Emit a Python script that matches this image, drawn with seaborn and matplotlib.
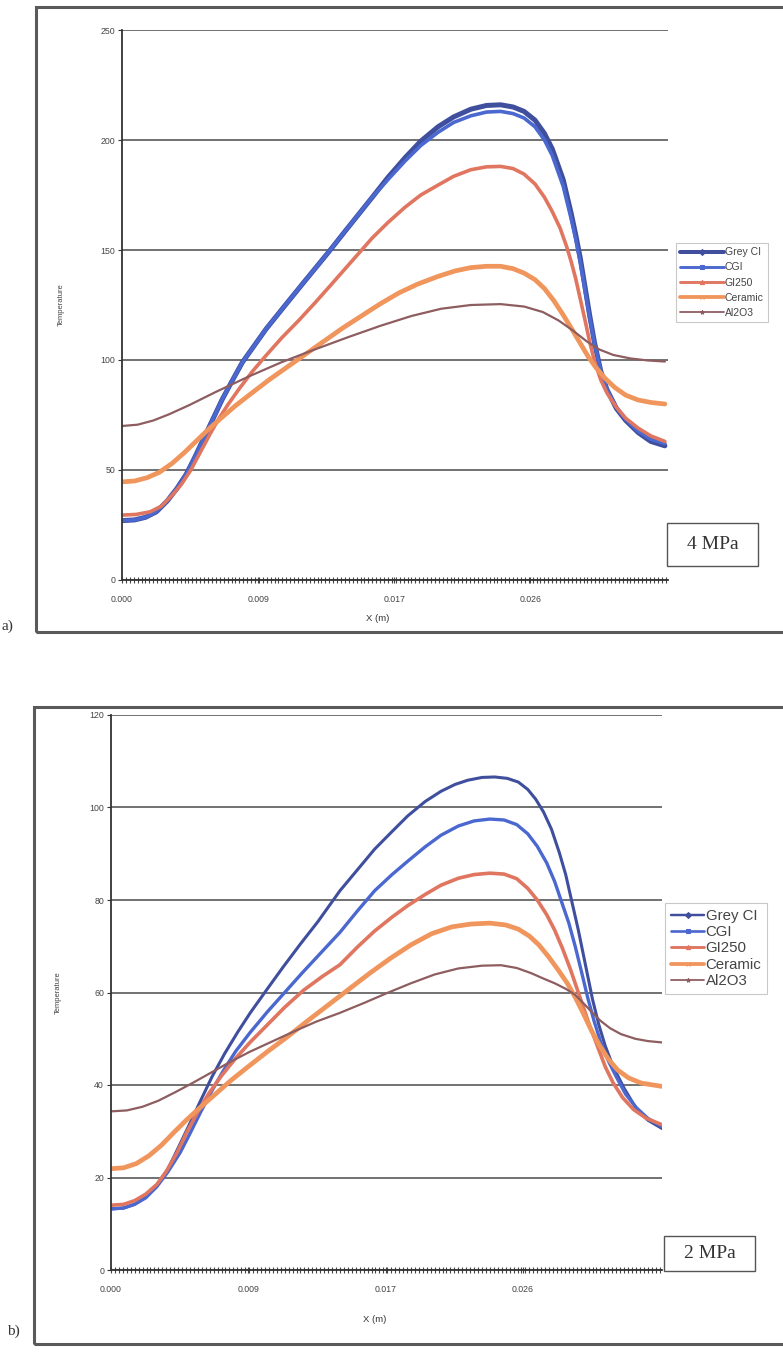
import matplotlib
matplotlib.use("Agg")
import matplotlib.pyplot as plt
from matplotlib.lines import Line2D
from matplotlib.patches import Rectangle
from matplotlib.ticker import MultipleLocator, FixedLocator, FixedFormatter
import numpy as np
import pandas as pd
import seaborn as sns

# ── Data: panel a (4 MPa) ────────────────────────────────────────────────────
a_grey_x = [0, 0.0008, 0.0015, 0.0022, 0.0029, 0.0035, 0.0041, 0.0046, 0.0052, 0.0058,
            0.0064, 0.0070, 0.0077, 0.0085, 0.0092, 0.0105, 0.0117, 0.0132, 0.0142,
            0.0151, 0.0160, 0.0170, 0.0181, 0.0191, 0.0202, 0.0212, 0.0223, 0.0233,
            0.0242, 0.0250, 0.0257, 0.0264, 0.0270, 0.0275, 0.0278, 0.0282, 0.0287,
            0.0290, 0.0293, 0.0296, 0.0299, 0.0302, 0.0306, 0.0310, 0.0316, 0.0322,
            0.0330, 0.0338, 0.0347]
a_grey_y = [27, 27.3, 28.5, 31, 36, 41.5, 48, 55, 64, 73, 82, 90, 99, 107, 114, 125.5,
            136, 149, 158, 166, 174, 183, 192, 199.5, 206, 210.5, 214, 215.7, 216, 215,
            213, 209, 203, 196, 190, 182, 167, 157, 146, 133, 120, 108, 95, 86.5, 78,
            72.5, 67, 63, 61]
a_cgi_x = a_grey_x
a_cgi_y = [27, 27.3, 28.5, 31, 36, 41.5, 48, 55, 64, 73, 82, 90, 99, 107, 114, 125.5,
           136, 149, 158, 166, 174, 182, 190.5, 197.5, 203.5, 208, 211, 212.7, 213, 212,
           210, 206, 200, 193, 187, 179, 164.5, 155, 144, 131.5, 119, 107.5, 95, 86.5,
           78.5, 73, 67.5, 64, 62]
a_gi_x = [0, 0.0009, 0.0018, 0.0025, 0.0032, 0.0038, 0.0044, 0.0050, 0.0056, 0.0062,
          0.0068, 0.0075, 0.0083, 0.0092, 0.0102, 0.0113, 0.0124, 0.0134, 0.0147, 0.0160,
          0.0170, 0.0181, 0.0191, 0.0202, 0.0212, 0.0223, 0.0233, 0.0242, 0.0250, 0.0257,
          0.0264, 0.0270, 0.0275, 0.0280, 0.0284, 0.0287, 0.0290, 0.0293, 0.0296, 0.0299,
          0.0302, 0.0306, 0.0310, 0.0316, 0.0322, 0.0330, 0.0338, 0.0347]
a_gi_y = [29.5, 29.8, 31, 33.5, 38.5, 43.5, 50, 58, 66, 73.5, 80, 87, 94.5, 102, 110, 118,
          126.5, 134.5, 145, 155.5, 162.5, 169.5, 175, 179.5, 183.5, 186.5, 187.8, 188,
          187, 184.5, 180, 174, 167.5, 160, 152, 145, 137, 127.5, 118, 108, 99.5, 91, 85,
          78.5, 73.5, 69, 65.5, 63]
a_cer_x = [0, 0.0008, 0.0016, 0.0024, 0.0032, 0.0040, 0.0048, 0.0056, 0.0064, 0.0073,
           0.0083, 0.0094, 0.0105, 0.0117, 0.0129, 0.0141, 0.0153, 0.0165, 0.0177, 0.0189,
           0.0202, 0.0213, 0.0223, 0.0233, 0.0242, 0.0250, 0.0257, 0.0264, 0.0270, 0.0276,
           0.0282, 0.0288, 0.0293, 0.0298, 0.0303, 0.0309, 0.0315, 0.0322, 0.0330, 0.0338,
           0.0347]
a_cer_y = [44.6, 45, 46.5, 49, 53, 58, 63.5, 69, 74, 79.5, 85, 91, 96.5, 102.5, 108.5,
           114.5, 120, 125.5, 130.5, 134.5, 138, 140.5, 142, 142.6, 142.6, 141.5, 139.5,
           136.5, 132.5, 127, 120.5, 113.5, 107.5, 101.5, 96.5, 91.5, 87.5, 84, 81.8, 80.7, 80]
a_al_x = [0, 0.0010, 0.0020, 0.0030, 0.0043, 0.0060, 0.0081, 0.0102, 0.0124, 0.0145,
          0.0165, 0.0185, 0.0204, 0.0223, 0.0242, 0.0257, 0.0269, 0.0279, 0.0288, 0.0297,
          0.0305, 0.0314, 0.0325, 0.0336, 0.0347]
a_al_y = [70, 70.6, 72.5, 75.3, 79.5, 85.5, 92.5, 99, 105, 110.5, 115.5, 120, 123.3, 125,
          125.4, 124.3, 121.8, 118, 113.5, 108.5, 104.8, 102.3, 100.7, 99.8, 99.3]

# ── Data: panel b (2 MPa) ────────────────────────────────────────────────────
b_grey_x = [0, 0.0008, 0.0015, 0.0022, 0.0029, 0.0036, 0.0042, 0.0049, 0.0057, 0.0064,
            0.0072, 0.0080, 0.0088, 0.0098, 0.0109, 0.0120, 0.0131, 0.0145, 0.0156,
            0.0167, 0.0178, 0.0188, 0.0199, 0.0209, 0.0218, 0.0226, 0.0235, 0.0243,
            0.0251, 0.0258, 0.0264, 0.0269, 0.0274, 0.0279, 0.0284, 0.0288, 0.0292,
            0.0296, 0.0299, 0.0302, 0.0305, 0.0309, 0.0313, 0.0318, 0.0325, 0.0332,
            0.0340, 0.0349]
b_grey_y = [13.2, 13.4, 14.2, 15.8, 18.3, 21.8, 26, 31, 36.8, 41.8, 46.8, 51.3, 55.5, 60.3,
            65.5, 70.5, 75.3, 82, 86.5, 91, 94.8, 98.2, 101.3, 103.5, 105, 105.9, 106.5,
            106.6, 106.3, 105.5, 103.9, 101.8, 99, 95.3, 90.2, 85.5, 79.5, 73.5, 68.5,
            63.5, 58.5, 53, 48.5, 44, 39.3, 35.3, 32.4, 30.6]
b_cgi_x = [0, 0.0008, 0.0015, 0.0022, 0.0029, 0.0036, 0.0044, 0.0050, 0.0057, 0.0064,
           0.0071, 0.0079, 0.0088, 0.0099, 0.0110, 0.0121, 0.0133, 0.0145, 0.0156, 0.0167,
           0.0178, 0.0188, 0.0199, 0.0209, 0.0220, 0.0230, 0.0240, 0.0249, 0.0257, 0.0264,
           0.0270, 0.0276, 0.0281, 0.0286, 0.0290, 0.0294, 0.0298, 0.0302, 0.0306, 0.0310,
           0.0315, 0.0320, 0.0326, 0.0333, 0.0340, 0.0349]
b_cgi_y = [13.2, 13.4, 14.2, 15.6, 18, 21.2, 25.5, 29.5, 34.3, 38.8, 43, 47.3, 51.3, 55.8,
           60, 64.2, 68.6, 73, 77.6, 82, 85.5, 88.4, 91.5, 94, 96, 97.1, 97.5, 97.3, 96.3,
           94.3, 91.6, 88, 84, 79, 75, 70, 64.5, 58.8, 53.8, 49.5, 45.2, 41.8, 38, 35,
           32.8, 31]
b_gi_x = [0, 0.0008, 0.0015, 0.0022, 0.0029, 0.0035, 0.0042, 0.0048, 0.0055, 0.0062,
          0.0070, 0.0079, 0.0088, 0.0099, 0.0110, 0.0122, 0.0134, 0.0145, 0.0156, 0.0167,
          0.0178, 0.0188, 0.0199, 0.0209, 0.0220, 0.0230, 0.0240, 0.0249, 0.0257, 0.0264,
          0.0270, 0.0276, 0.0281, 0.0286, 0.0291, 0.0295, 0.0299, 0.0303, 0.0308, 0.0313,
          0.0318, 0.0324, 0.0331, 0.0339, 0.0349]
b_gi_y = [14, 14.2, 15, 16.4, 18.5, 21.3, 25.5, 29.8, 34.2, 38.2, 42, 45.8, 49.2, 53, 56.8,
          60.5, 63.5, 66, 69.8, 73.3, 76.3, 78.8, 81.2, 83.2, 84.7, 85.5, 85.8, 85.6, 84.6,
          82.5, 80, 76.8, 73.5, 69.5, 65, 61, 57, 53, 48.5, 44, 40.5, 37.3, 34.7, 32.8, 31.4]
b_cer_x = [0, 0.0008, 0.0016, 0.0024, 0.0032, 0.0040, 0.0048, 0.0057, 0.0066, 0.0076,
           0.0087, 0.0099, 0.0112, 0.0125, 0.0138, 0.0151, 0.0164, 0.0177, 0.0190, 0.0203,
           0.0216, 0.0228, 0.0240, 0.0250, 0.0258, 0.0265, 0.0271, 0.0277, 0.0283, 0.0289,
           0.0294, 0.0299, 0.0304, 0.0309, 0.0315, 0.0321, 0.0328, 0.0336, 0.0349]
b_cer_y = [21.9, 22.1, 23, 24.7, 27, 29.8, 32.5, 35.3, 38, 41, 44, 47.2, 50.5, 54, 57.4,
           60.8, 64.2, 67.4, 70.3, 72.7, 74.2, 74.8, 75, 74.6, 73.7, 72.2, 70.3, 67.8, 65,
           62, 59, 55.6, 52, 48.8, 45.6, 43.2, 41.5, 40.4, 39.7]
b_al_x = [0, 0.0010, 0.0020, 0.0030, 0.0041, 0.0052, 0.0063, 0.0075, 0.0088, 0.0102,
          0.0116, 0.0130, 0.0145, 0.0160, 0.0175, 0.0190, 0.0205, 0.0220, 0.0235, 0.0247,
          0.0257, 0.0266, 0.0274, 0.0281, 0.0288, 0.0294, 0.0300, 0.0305, 0.0310, 0.0316,
          0.0323, 0.0332, 0.0340, 0.0349]
b_al_y = [34.3, 34.5, 35.3, 36.6, 38.5, 40.5, 42.6, 44.9, 47.2, 49.4, 51.6, 53.7, 55.6,
          57.7, 59.9, 62, 63.9, 65.2, 65.8, 65.9, 65.3, 64.2, 63, 62, 60.8, 59.5, 57.4,
          55.6, 53.9, 52.3, 51, 50, 49.5, 49.2]

series_names = ["Grey CI", "CGI", "GI250", "Ceramic", "Al2O3"]
x_tick_pos = [0.0, 0.0087, 0.0174, 0.0261]
x_tick_lab = ["0.000", "0.009", "0.017", "0.026"]

# ── Style ────────────────────────────────────────────────────────────────────
COLORS = {"Grey CI": "#3f4f9e", "CGI": "#4a68cf", "GI250": "#e07560",
          "Ceramic": "#f0955c", "Al2O3": "#8e5d5f"}
MARKERS = {"Grey CI": "D", "CGI": "s", "GI250": "^", "Ceramic": "x", "Al2O3": "*"}
GRID = "#4a4a4a"
FRAME = "#5a5a5a"
SERIF = ["Liberation Serif", "DejaVu Serif"]
W, H = 783, 1356

sns.set_theme(style="white")
plt.rcParams["font.family"] = ["Liberation Sans", "DejaVu Sans"]


def build_df(pairs):
    frames = []
    for name, (xs, ys) in zip(series_names, pairs):
        frames.append(pd.DataFrame({"x": xs, "T": ys, "series": name}))
    return pd.concat(frames, ignore_index=True)


def draw_panel(ax, df, widths, ymax, ystep, legend_anchor, legend_fs, hlen, lspace):
    for name in series_names:
        sub = df[df["series"] == name]
        sns.lineplot(data=sub, x="x", y="T", ax=ax, color=COLORS[name],
                     lw=widths[name], legend=False, sort=False)
    ax.set_xlim(0, 0.0349)
    ax.set_ylim(0, ymax)
    ax.set_yticks(np.arange(0, ymax + 1, ystep))
    ax.yaxis.grid(True, color=GRID, lw=1.1)
    ax.xaxis.grid(False)
    ax.xaxis.set_major_locator(FixedLocator(x_tick_pos))
    ax.xaxis.set_major_formatter(FixedFormatter(x_tick_lab))
    ax.xaxis.set_minor_locator(MultipleLocator(0.00025))
    for side in ["top", "right"]:
        ax.spines[side].set_visible(False)
    for side in ["left", "bottom"]:
        ax.spines[side].set_color("#333333")
        ax.spines[side].set_linewidth(1.3)
    ax.tick_params(axis="y", which="major", left=True, length=3, width=0.8,
                   color="#333333", labelsize=6.3, labelcolor="#444444", pad=2)
    ax.tick_params(axis="x", which="both", bottom=True, direction="inout",
                   length=5, width=0.8, color="#444444", labelsize=6.3,
                   labelcolor="#444444", pad=8)
    ax.set_ylabel("Temperature", fontsize=5.5, color="#444444")
    ax.set_xlabel("X (m)", fontsize=6.8, color="#333333")
    handles = [Line2D([], [], color=COLORS[n], lw=widths[n] * 0.8, marker=MARKERS[n],
                      markersize=3, markeredgewidth=0.8) for n in series_names]
    leg = ax.legend(handles, series_names, loc="upper left",
                    bbox_to_anchor=legend_anchor, bbox_transform=ax.figure.transFigure,
                    fontsize=legend_fs, frameon=True, handlelength=hlen,
                    handletextpad=0.1, borderpad=0.4, labelspacing=lspace,
                    fancybox=False, borderaxespad=0)
    leg.get_frame().set_edgecolor("#bbbbbb")
    leg.get_frame().set_linewidth(0.8)
    for t in leg.get_texts():
        t.set_color("#444444")


def label_box(fig, x0, y0, x1, y1, text):
    fig.add_artist(Rectangle((x0 / W, 1 - y1 / H), (x1 - x0) / W, (y1 - y0) / H,
                             transform=fig.transFigure, facecolor="white",
                             edgecolor="#555555", lw=1.0))
    fig.text((x0 + x1) / 2 / W, 1 - (y0 + y1) / 2 / H, text, ha="center", va="center",
             fontsize=14, family=SERIF, color="#333333")


fig = plt.figure(figsize=(7.83, 13.56), dpi=100)
fig.patch.set_facecolor("white")

# outer frames of the two sub-figures
fig.add_artist(Rectangle((36 / W, 0.534), 1.05, 0.9948 - 0.534,
                         transform=fig.transFigure, fill=False,
                         edgecolor=FRAME, lw=2.2, clip_on=False))
fig.add_artist(Rectangle((34 / W, 0.0088), 1.05, 0.4786 - 0.0088,
                         transform=fig.transFigure, fill=False,
                         edgecolor=FRAME, lw=2.2, clip_on=False))

# panel a
ax_a = fig.add_axes([122 / W, 1 - 580 / H, 546 / W, 550 / H])
df_a = build_df([(a_grey_x, a_grey_y), (a_cgi_x, a_cgi_y), (a_gi_x, a_gi_y),
                 (a_cer_x, a_cer_y), (a_al_x, a_al_y)])
draw_panel(ax_a, df_a, {"Grey CI": 3.6, "CGI": 2.6, "GI250": 2.6, "Ceramic": 3.4, "Al2O3": 1.6},
           250, 50, (676 / W, 1 - 243 / H), 7.5, 4.2, 0.5)
ax_a.yaxis.set_label_coords(-0.104, 0.5)
ax_a.xaxis.set_label_coords(0.469, -0.062)

# panel b
ax_b = fig.add_axes([111 / W, 1 - 1270 / H, 551 / W, 555 / H])
df_b = build_df([(b_grey_x, b_grey_y), (b_cgi_x, b_cgi_y), (b_gi_x, b_gi_y),
                 (b_cer_x, b_cer_y), (b_al_x, b_al_y)])
draw_panel(ax_b, df_b, {"Grey CI": 2.2, "CGI": 2.4, "GI250": 2.6, "Ceramic": 3.4, "Al2O3": 1.6},
           120, 20, (665 / W, 1 - 903 / H), 10.8, 2.2, 0.15)
ax_b.yaxis.set_label_coords(-0.089, 0.5)
ax_b.xaxis.set_label_coords(0.479, -0.081)

# pressure boxes
label_box(fig, 667, 523, 758, 566, "4 MPa")
label_box(fig, 664, 1236, 755, 1271, "2 MPa")

# panel letters
fig.text(2 / W, 1 - 626 / H, "a)", ha="left", va="center", fontsize=11,
         family=SERIF, color="#333333")
fig.text(7 / W, 1 - 1331 / H, "b)", ha="left", va="center", fontsize=11,
         family=SERIF, color="#333333")

fig.savefig("out.png", dpi=100, facecolor="white")
